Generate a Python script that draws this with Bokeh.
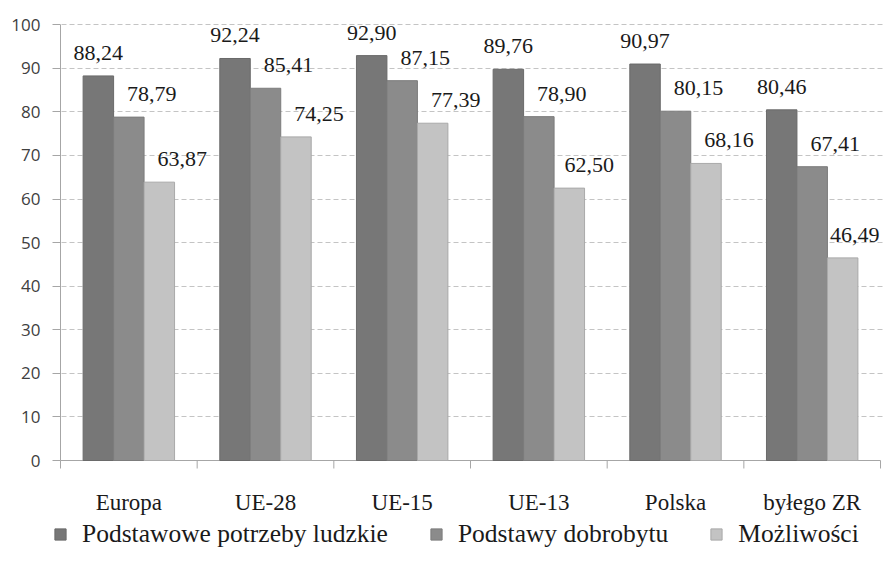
from bokeh.plotting import figure
from bokeh.models import (Range1d, FixedTicker, ColumnDataSource, LabelSet, Legend, LegendItem)
from bokeh.core.properties import value
from bokeh.embed import file_html
from bokeh.resources import INLINE

categories = ["Europa", "UE-28", "UE-15", "UE-13", "Polska", "byłego ZR"]
series_names = ["Podstawowe potrzeby ludzkie", "Podstawy dobrobytu", "Możliwości"]
s1 = [88.24, 92.24, 92.90, 89.76, 90.97, 80.46]
s2 = [78.79, 85.41, 87.15, 78.90, 80.15, 67.41]
s3 = [63.87, 74.25, 77.39, 62.50, 68.16, 46.49]
y_ticks = [0, 10, 20, 30, 40, 50, 60, 70, 80, 90, 100]

# styles
fills = ["#777777", "#8b8b8b", "#c3c3c3"]
lines = ["#6a6a6a", "#7c7c7c", "#a9a9a9"]
axis_col = "#a6a6a6"
bar_w = 0.223
offsets = [-bar_w, 0.0, bar_w]
label_dx = [[0] * 6, [23] * 6, [23, 23, 23, 20, 23, 12]]

W, H = 883, 549
LEFT, TOP = 53, 22          # frame position on the canvas
AXIS_X = 60                 # pixel column of the value axis
AXIS_Y = 460                # pixel row of value 0
n = len(categories)
y_max = y_ticks[-1]
PX_X = 136.67                         # pixels per category
PX_Y = (AXIS_Y - TOP) / (y_max + 0.5) # pixels per value unit (small headroom above 100)

x0 = -(AXIS_X - LEFT) / PX_X
x1 = (W - AXIS_X) / PX_X
y0 = -(H - AXIS_Y) / PX_Y
y1 = y_max + 0.5

p = figure(width=W, height=H, output_backend="svg", toolbar_location=None,
           x_range=Range1d(x0, x1), y_range=Range1d(y0, y1),
           x_axis_location=None,
           min_border_left=LEFT, min_border_right=0, min_border_top=TOP, min_border_bottom=0)
p.outline_line_color = None
p.background_fill_color = "white"
p.border_fill_color = "white"

# grid
p.xgrid.grid_line_color = None
p.ygrid.ticker = FixedTicker(ticks=y_ticks[1:])
p.ygrid.grid_line_color = "#c4c4c4"
p.ygrid.grid_line_dash = "5 3"

# y axis (line drawn separately from 0 to 100)
yax = p.yaxis[0]
yax.ticker = FixedTicker(ticks=y_ticks)
yax.axis_line_color = None
yax.major_tick_line_color = axis_col
yax.major_tick_in = AXIS_X - LEFT
yax.major_tick_out = 1
yax.minor_tick_line_color = None
yax.major_label_standoff = 12
yax.major_label_text_font = "Open Sans"
yax.major_label_text_font_size = "17px"
yax.major_label_text_color = "#404040"

centers = [i + 0.5 for i in range(n)]
bounds = [float(i) for i in range(n + 1)]

# axis lines and category boundary ticks
p.segment(x0=[0], y0=[0], x1=[0], y1=[y_max], line_color=axis_col, line_width=1)
p.segment(x0=[0], y0=[0], x1=[n], y1=[0], line_color=axis_col, line_width=1)
p.segment(x0=bounds, y0=[0] * len(bounds), x1=bounds, y1=[-8 / PX_Y] * len(bounds),
          line_color=axis_col, line_width=1)

renderers = []
for k, vals in enumerate([s1, s2, s3]):
    xs = [c + offsets[k] for c in centers]
    src = ColumnDataSource(dict(x=xs, top=vals, dx=label_dx[k],
                                txt=[f"{v:.2f}".replace(".", ",") for v in vals]))
    r = p.vbar(x="x", top="top", bottom=0, width=bar_w, source=src,
               fill_color=fills[k], line_color=lines[k], line_width=1)
    renderers.append(r)
    lab = LabelSet(x="x", y="top", text="txt", source=src, x_offset="dx", y_offset=16,
                   text_align="center", text_baseline="alphabetic",
                   text_font="Open Sans", text_font_size="22px", text_color="#1a1a1a")
    p.add_layout(lab)

# category labels
cat_src = ColumnDataSource(dict(x=centers, y=[-42 / PX_Y] * n, t=categories))
p.text(x="x", y="y", text="t", source=cat_src, text_align="center", text_baseline="alphabetic",
       text_font=value("Liberation Serif"), text_font_size="23px", text_color="#1a1a1a")

legend = Legend(items=[LegendItem(label=series_names[k], renderers=[renderers[k]]) for k in range(3)],
                orientation="horizontal", location=(0, 0.5),
                glyph_width=14, glyph_height=14, label_height=26, label_standoff=15,
                spacing=41, padding=0, margin=0, border_line_color=None,
                background_fill_alpha=0,
                label_text_font="Liberation Serif", label_text_font_size="25.5px",
                label_text_color="#1a1a1a")
p.add_layout(legend, "center")

open("out.html", "w").write(file_html(p, INLINE))
